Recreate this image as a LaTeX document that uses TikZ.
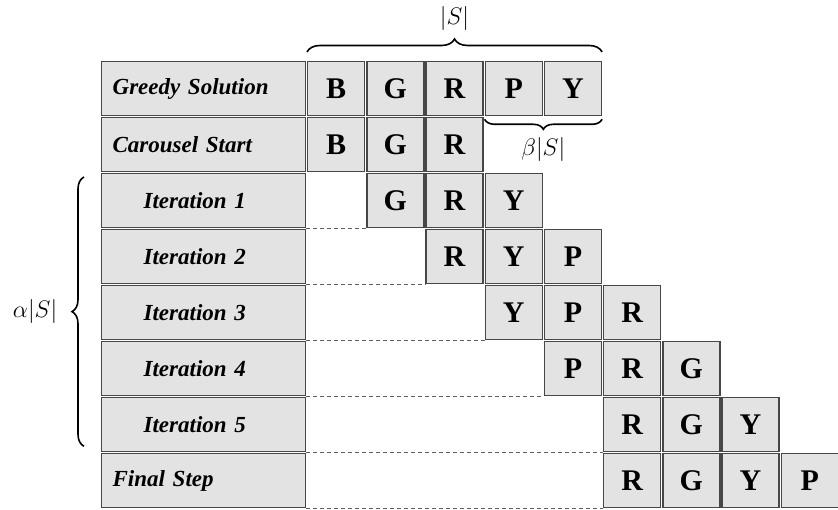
\RequirePackage{fix-cm}
\documentclass[tikz,border=0pt]{standalone}
\usepackage{fontspec}
\setmainfont{Liberation Serif}
\usetikzlibrary{decorations.pathreplacing,calc}
\definecolor{cellfill}{HTML}{E3E3E3}
\definecolor{celledge}{HTML}{474747}
\definecolor{dashgray}{HTML}{5E5E5E}

\begin{document}
\begin{tikzpicture}[x=1pt,y=1pt,
  box/.style={draw=celledge, fill=cellfill, line width=1.3pt, anchor=north west, inner sep=0pt},
  cell/.style={box, minimum width=57pt, minimum height=54pt,
    font=\fontsize{30}{32}\selectfont\bfseries},
  rowlabel/.style={box, minimum width=204pt, minimum height=54pt, inner xsep=11pt,
    text width=182pt, align=left, font=\fontsize{23}{26}\selectfont\bfseries\itshape},
  dashline/.style={draw=dashgray, line width=1.1pt, dash pattern=on 4pt off 3pt},
  bracestyle/.style={draw=black, line width=1.6pt, decorate},
  mathlabel/.style={font=\fontsize{24}{28}\selectfont, inner sep=0pt}
]
\useasboundingbox (0,0) rectangle (838,510);

% row labels
\foreach \r/\txt in {0/{Greedy Solution}, 1/{Carousel Start},
    2/{\hspace*{31pt}Iteration 1}, 3/{\hspace*{31pt}Iteration 2},
    4/{\hspace*{31pt}Iteration 3}, 5/{\hspace*{31pt}Iteration 4},
    6/{\hspace*{31pt}Iteration 5}, 7/{Final Step}}
  \node[rowlabel] (L\r) at (101, 449-56*\r) {\txt};

% solution cells: row / first column / letters
\foreach \r/\s/\letters in {0/0/{B,G,R,P,Y}, 1/0/{B,G,R}, 2/1/{G,R,Y},
    3/2/{R,Y,P}, 4/3/{Y,P,R}, 5/4/{P,R,G}, 6/5/{R,G,Y}, 7/5/{R,G,Y,P}}
  \foreach \l [count=\k from 0] in \letters {
    \pgfmathtruncatemacro{\c}{\s+\k}
    \node[cell] (c\r-\c) at (307+59.2*\c, 449-56*\r) {\l};
  }

% dashed guides from each label to the first cell of its row
\foreach \r/\s in {2/1, 3/2, 4/3, 5/4, 6/5, 7/5}
  \draw[dashline] (L\r.south east) -- (c\r-\s.south west);

% braces
\draw[bracestyle, decoration={brace, amplitude=13pt}]
  ($(c0-0.north west)+(0,9)$) -- ($(c0-4.north east)+(0,9)$)
  node[mathlabel, midway, above=21pt] (sz) {$|S|$};
\draw[bracestyle, decoration={brace, amplitude=10pt}]
  ($(c0-4.south east)+(0,-3)$) -- ($(c0-3.south west)+(0,-3)$)
  node[mathlabel, midway, below=17pt] (bt) {$\beta|S|$};
\draw[bracestyle, decoration={brace, amplitude=12pt}]
  ($(L6.south west)+(-17,6)$) -- ($(L2.north west)+(-17,-4)$)
  node[mathlabel, midway, left=26pt] (al) {$\alpha|S|$};
\end{tikzpicture}
\end{document}
